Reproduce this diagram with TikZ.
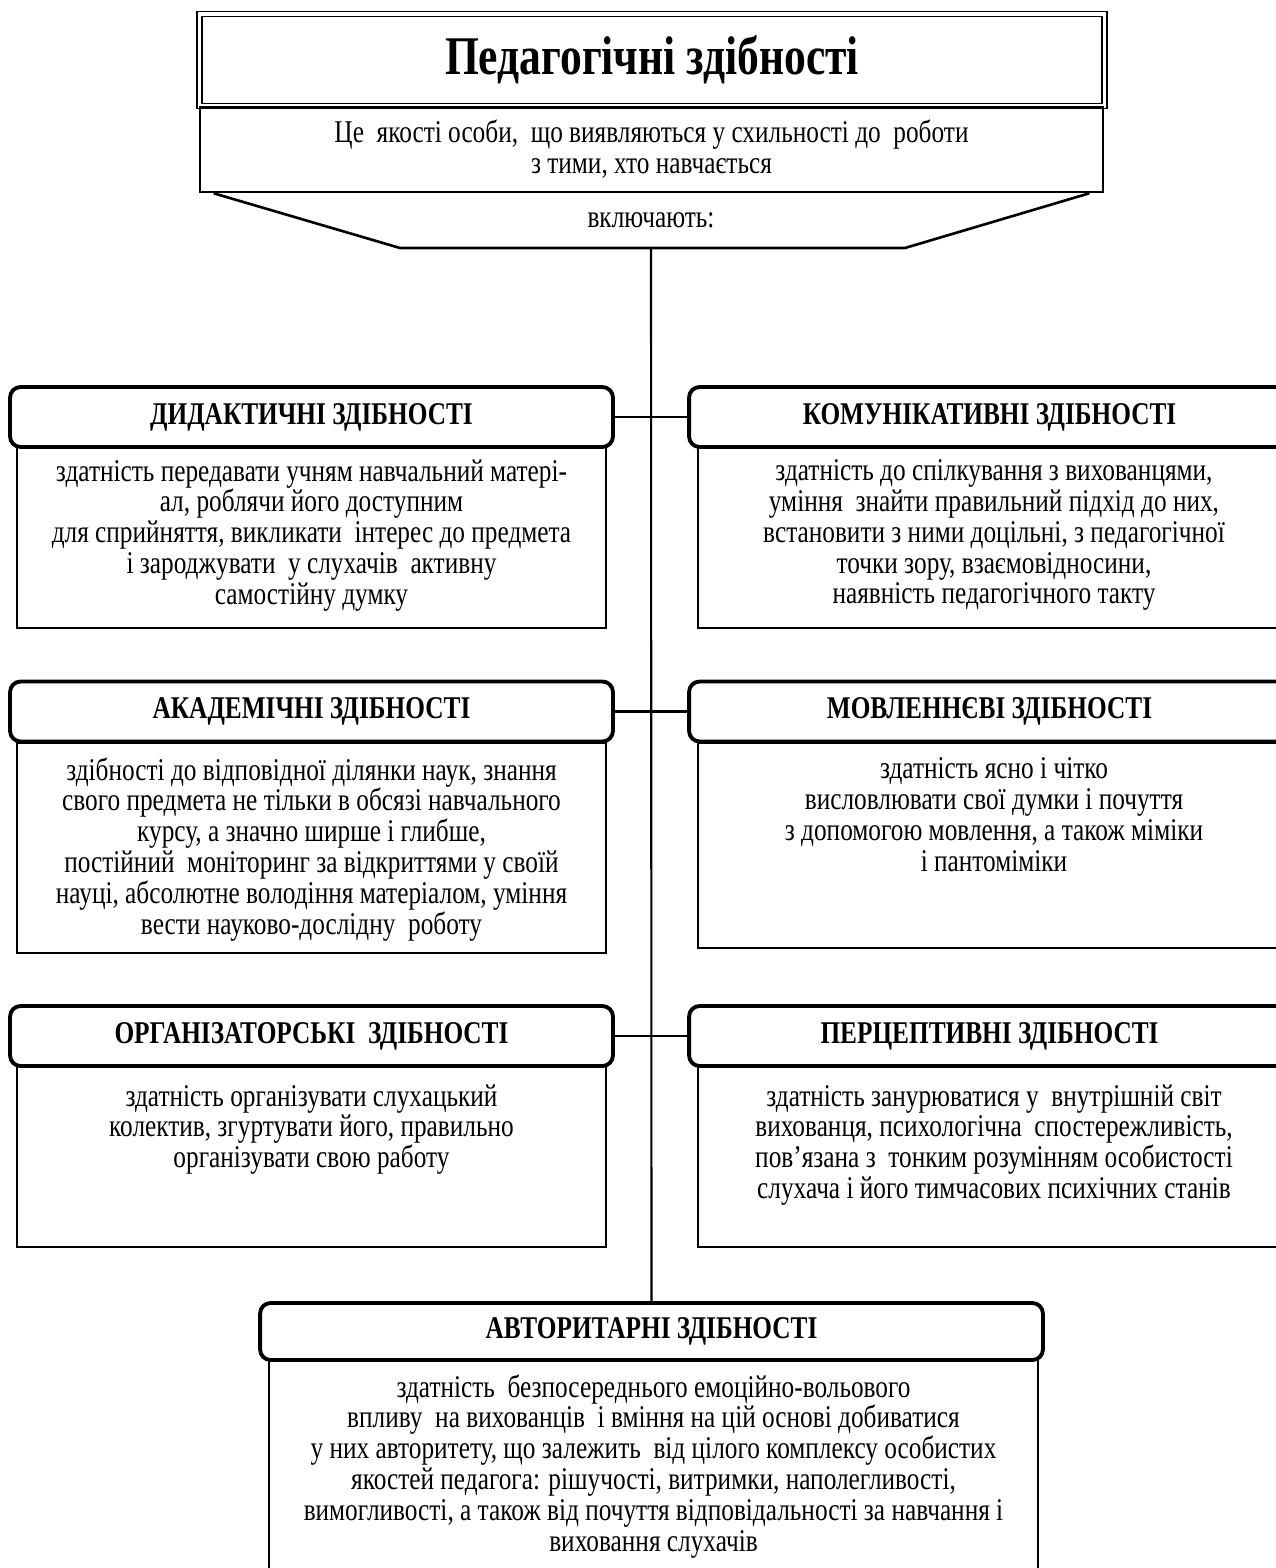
\documentclass[tikz,border=0pt]{standalone}
\usepackage{fontspec}
\setmainfont{Liberation Serif}[FakeStretch=0.8]

\begin{document}
\begin{tikzpicture}[x=0.02cm, y=-0.02cm,
        txt/.style={font=\fontsize{18}{17.6}\selectfont, align=center, inner sep=0pt},
        head/.style={draw=black, line width=2.2pt, rounded corners=6pt, minimum height=1.2cm, inner sep=0pt,
            font=\fontsize{18}{17.6}\selectfont\bfseries},
        descbox/.style={draw=black, line width=1.1pt, inner sep=0pt},
        link/.style={draw=black, line width=1.2pt}
    ]
        \useasboundingbox (0,0) rectangle (1275,1568);

        % Title
        \node[draw=black, double, double distance=1.8pt, line width=0.9pt, minimum width=18.1cm, minimum height=1.84cm,
            font=\fontsize{31}{36}\selectfont\bfseries] (title) at (652, 60) {Педагогічні здібності};
        \node[draw=black, line width=1.5pt, minimum width=18.06cm, minimum height=1.7cm, txt] (def) at (651.5, 149.5)
            {Це\ \ якості особи,\ \ що виявляються у схильності до\ \ роботи\\з тими, хто навчається};
        \node[txt] (incl) at (651, 220) {включають:};
        \coordinate (fork) at (651, 248);
        \draw[line width=1.5pt] ([xshift=0.3cm]def.south west) -- (400, 248) -- (905, 248) -- ([xshift=-0.3cm]def.south east);

        % Headings
        \node[head, minimum width=12.06cm] (did) at (311.5, 417) {ДИДАКТИЧНІ ЗДІБНОСТІ};
        \node[head, minimum width=12.02cm] (com) at (989.5, 417) {КОМУНІКАТИВНІ ЗДІБНОСТІ};
        \node[head, minimum width=12.06cm] (acad) at (311.5, 711.5) {АКАДЕМІЧНІ ЗДІБНОСТІ};
        \node[head, minimum width=12.02cm] (speech) at (989.5, 711.5) {МОВЛЕННЄВІ ЗДІБНОСТІ};
        \node[head, minimum width=12.06cm] (org) at (311.5, 1036) {ОРГАНІЗАТОРСЬКІ\ \ ЗДІБНОСТІ};
        \node[head, minimum width=12.02cm] (perc) at (989.5, 1036) {ПЕРЦЕПТИВНІ ЗДІБНОСТІ};
        \node[head, minimum width=15.66cm, minimum height=1.14cm] (auth) at (651.5, 1331.5) {АВТОРИТАРНІ ЗДІБНОСТІ};

        % Description boxes
        \node[descbox, minimum width=11.78cm, minimum height=3.62cm] (didbox) at (311.5, 537.5) {};
        \node[descbox, minimum width=11.84cm, minimum height=3.62cm] (combox) at (994, 537.5) {};
        \node[descbox, minimum width=11.78cm, minimum height=4.2cm] (acadbox) at (311.5, 848) {};
        \node[descbox, minimum width=11.84cm, minimum height=4.1cm] (speechbox) at (994, 845.5) {};
        \node[descbox, minimum width=11.78cm, minimum height=3.64cm] (orgbox) at (311.5, 1156) {};
        \node[descbox, minimum width=11.84cm, minimum height=3.64cm] (percbox) at (994, 1156) {};
        \node[descbox, minimum width=15.38cm, minimum height=5cm] (authbox) at (653.5, 1485) {};

        % Texts
        \node[txt, anchor=north] (didtxt) at (311.5, 459)
            {здатність передавати учням навчальний матері-\\ал, роблячи його доступним\\для сприйняття, викликати\ \ інтерес до предмета\\і зароджувати\ \ у слухачів\ \ активну\\самостійну думку};
        \node[txt, anchor=north] (comtxt) at (994, 459)
            {здатність до спілкування з вихованцями,\\уміння\ \ знайти правильний підхід до них,\\встановити з ними доцільні, з педагогічної\\точки зору, взаємовідносини,\\наявність педагогічного такту};
        \node[txt, anchor=north] (acadtxt) at (311.5, 757)
            {здібності до відповідної ділянки наук, знання\\свого предмета не тільки в обсязі навчального\\курсу, а значно ширше і глибше,\\постійний\ \ моніторинг за відкриттями у своїй\\науці, абсолютне володіння матеріалом, уміння\\вести науково-дослідну\ \ роботу};
        \node[txt, anchor=north] (speechtxt) at (994, 757)
            {здатність ясно і чітко\\висловлювати свої думки і почуття\\з допомогою мовлення, а також міміки\\і пантоміміки};
        \node[txt, anchor=north] (orgtxt) at (311.5, 1084)
            {здатність організувати слухацький\\колектив, згуртувати його, правильно\\організувати свою работу};
        \node[txt, anchor=north] (perctxt) at (994, 1084)
            {здатність занурюватися у\ \ внутрішній світ\\вихованця, психологічна\ \ спостережливість,\\пов’язана з\ \ тонким розумінням особистості\\слухача і його тимчасових психічних станів};
        \node[txt, anchor=north] (authtxt) at (653.5, 1374)
            {здатність\ \ безпосереднього емоційно-вольового\\впливу\ \ на вихованців\ \ і вміння на цій основі добиватися\\у них авторитету, що залежить\ \ від цілого комплексу особистих\\якостей педагога: рішучості, витримки, наполегливості,\\вимогливості, а також від почуття відповідальності за навчання і\\виховання слухачів};

        % Edges
        \draw[link] (fork) -- (auth.north);
        \draw[link] (did.east) -- (com.west);
        \draw[link] (acad.east) -- (speech.west);
        \draw[link] (org.east) -- (perc.west);

    \end{tikzpicture}
\end{document}
